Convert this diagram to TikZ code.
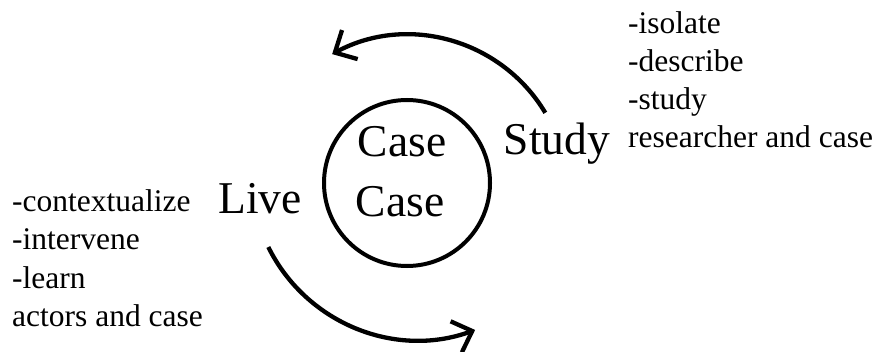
\documentclass[tikz,border=0pt]{standalone}
\usepackage{fontspec}
\setmainfont{Liberation Serif}
\usepackage{tikz}
\usetikzlibrary{arrows.meta}

\begin{document}
\begin{tikzpicture}[x=1pt, y=1pt,
        big/.style={anchor=base, inner sep=0pt, font=\fontsize{45.5}{50}\selectfont},
        small/.style={anchor=base west, inner sep=0pt, font=\fontsize{31.5}{37.5}\selectfont},
        cyc/.style={line width=4.3pt, -{Straight Barb[length=17pt, width=33pt]}}]
        \useasboundingbox (0,0) rectangle (878,351);
        % the case in the middle
        \node[draw, circle, line width=4pt, minimum size=166pt, inner sep=0pt] (case) at (407,168) {};
        \node[big] (casea) at (402,194) {Case};
        \node[big] (caseb) at (400,134) {Case};
        % the two sides
        \node[big] (study) at (557,196) {Study};
        \node[big] (live) at (260,137) {Live};
        \foreach \t [count=\i] in {-isolate, -describe, -study, researcher and case} {
            \node[small] (study\i) at (628, 317-38*\i+38) {\t};
        }
        \foreach \t [count=\i] in {-contextualize, -intervene, -learn, actors and case} {
            \node[small] (live\i) at (12, 139-38*\i+38) {\t};
        }
        % arrows round the case
        \coordinate (studyarc) at (545.3,238.2);
        \coordinate (livearc) at (268.3,104);
        \draw[cyc] (studyarc) arc[start angle=30.9, end angle=118.3, radius=160pt];
        \draw[cyc] (livearc) arc[start angle=206.3, end angle=290, radius=167pt];
    \end{tikzpicture}
\end{document}
